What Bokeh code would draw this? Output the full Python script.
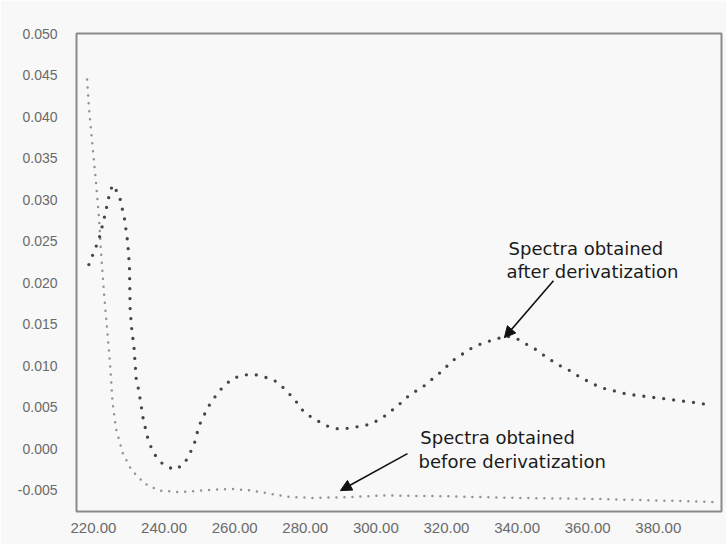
from bokeh.plotting import figure
from bokeh.models import FixedTicker, NumeralTickFormatter, Label, Arrow, NormalHead
from bokeh.embed import file_html
from bokeh.resources import INLINE

# Spectrum after derivatization: wavelength (nm) and absorbance (AU)
after_nm = [218.7, 221.6, 223.0, 224.5, 225.4, 227.3, 228.8, 229.7, 230.2, 230.3,
            230.4, 230.9, 231.5, 232.1, 232.9, 234.1, 235.5, 237.0, 239.4, 242.7,
            245.6, 247.1, 248.5, 249.9, 252.4, 254.3, 256.7, 259.5, 262.4, 265.3,
            268.2, 271.1, 274.0, 276.9, 279.7, 282.6, 286.0, 289.4, 292.3, 295.2,
            298.6, 302.0, 305.0, 307.5, 309.8, 313.1, 315.9, 318.8, 321.6, 324.4,
            327.3, 330.6, 333.9, 336.7, 339.5, 341.9, 345.2, 348.5, 351.4, 355.1,
            358.0, 360.8, 363.6, 367.4, 371.2, 375.0, 378.7, 382.5, 386.3, 390.1,
            394.8]
after_abs = [0.0222, 0.0253, 0.0277, 0.0306, 0.0318, 0.0306, 0.0277, 0.0249, 0.0220, 0.0195,
             0.0167, 0.0142, 0.0122, 0.0085, 0.0069, 0.0036, 0.0011, -0.0005, -0.0017, -0.0025,
             -0.0019, -0.0007, 0.0005, 0.0028, 0.0050, 0.0062, 0.0075, 0.0085, 0.0089, 0.0090,
             0.0087, 0.0083, 0.0073, 0.0060, 0.0044, 0.0036, 0.0028, 0.0024, 0.0025, 0.0027,
             0.0030, 0.0038, 0.0048, 0.0057, 0.0066, 0.0074, 0.0084, 0.0094, 0.0106, 0.0114,
             0.0122, 0.0128, 0.0132, 0.0136, 0.0134, 0.0128, 0.0120, 0.0110, 0.0102, 0.0094,
             0.0086, 0.0080, 0.0074, 0.0070, 0.0066, 0.0064, 0.0062, 0.0060, 0.0058, 0.0056,
             0.0053]

# Spectrum before derivatization
before_nm = [218.2, 218.7, 219.6, 220.7, 221.6, 222.1, 223.0, 224.0, 224.8, 225.4,
             226.4, 228.3, 230.7, 234.6, 238.5, 244.2, 251.0, 258.7, 264.5, 270.2,
             276.0, 282.7, 292.0, 302.0, 320.0, 340.0, 360.0, 380.0, 396.0]
before_abs = [0.0445, 0.0412, 0.0371, 0.0322, 0.0277, 0.0240, 0.0187, 0.0138, 0.0097, 0.0056,
              0.0024, -0.0005, -0.0025, -0.0042, -0.0050, -0.0052, -0.0050, -0.0048, -0.0050, -0.0054,
              -0.0058, -0.0059, -0.0058, -0.0056, -0.0057, -0.0059, -0.0060, -0.0062, -0.0064]

x_ticks = [220, 240, 260, 280, 300, 320, 340, 360, 380]
y_ticks = [-0.005, 0.000, 0.005, 0.010, 0.015, 0.020, 0.025, 0.030, 0.035, 0.040, 0.045, 0.050]

PAPER = "#f8f8f8"

p = figure(width=726, height=544,
           x_range=(215.2, 397.9), y_range=(-0.00753, 0.05003),
           output_backend="svg", toolbar_location=None,
           min_border_left=76, min_border_right=5,
           min_border_top=33, min_border_bottom=33,
           background_fill_color=PAPER, border_fill_color=PAPER)

p.grid.visible = False
p.outline_line_color = "#8a8a8a"
p.outline_line_width = 2

for ax in (p.xaxis, p.yaxis):
    ax.axis_line_color = None
    ax.major_tick_in = 0
    ax.major_tick_out = 0
    ax.minor_tick_line_color = None
    ax.major_label_text_font = "Liberation Sans"
    ax.major_label_text_color = "#6a6a6a"

p.xaxis.ticker = FixedTicker(ticks=x_ticks)
p.xaxis.formatter = NumeralTickFormatter(format="0.00")
p.xaxis.major_label_text_font_size = "15px"
p.xaxis.major_label_standoff = 11

p.yaxis.ticker = FixedTicker(ticks=y_ticks)
p.yaxis.formatter = NumeralTickFormatter(format="0.000")
p.yaxis.major_label_text_font_size = "14px"
p.yaxis.major_label_standoff = 19

# dotted traces: zero-length dashes with round caps give a row of dots
p.line(before_nm, before_abs, line_color="#929292", line_width=2.5,
       line_dash="0 8", line_cap="round")
p.line(after_nm, after_abs, line_color="#454545", line_width=3.3,
       line_dash="0 10", line_cap="round")

TEXT_FONT = "DejaVu Sans"
TEXT_SIZE = "18px"
TEXT_COLOR = "#1a1a1a"

for x, y, txt in [(337.6, 0.02411, "Spectra obtained"),
                  (337.0, 0.02134, "after derivatization"),
                  (312.6, 0.00137, "Spectra obtained"),
                  (312.1, -0.00152, "before derivatization")]:
    p.add_layout(Label(x=x, y=y, text=txt, text_font=TEXT_FONT,
                       text_font_size=TEXT_SIZE, text_color=TEXT_COLOR,
                       text_baseline="alphabetic", text_align="left"))

for xs, ys, xe, ye in [(350.3, 0.02026, 336.4, 0.0134),
                       (308.95, -0.00056, 289.97, -0.00501)]:
    p.add_layout(Arrow(end=NormalHead(size=11, fill_color="#111111", line_color="#111111"),
                       x_start=xs, y_start=ys, x_end=xe, y_end=ye,
                       line_color="#111111", line_width=1.6))

open("out.html", "w").write(file_html(p, INLINE))
